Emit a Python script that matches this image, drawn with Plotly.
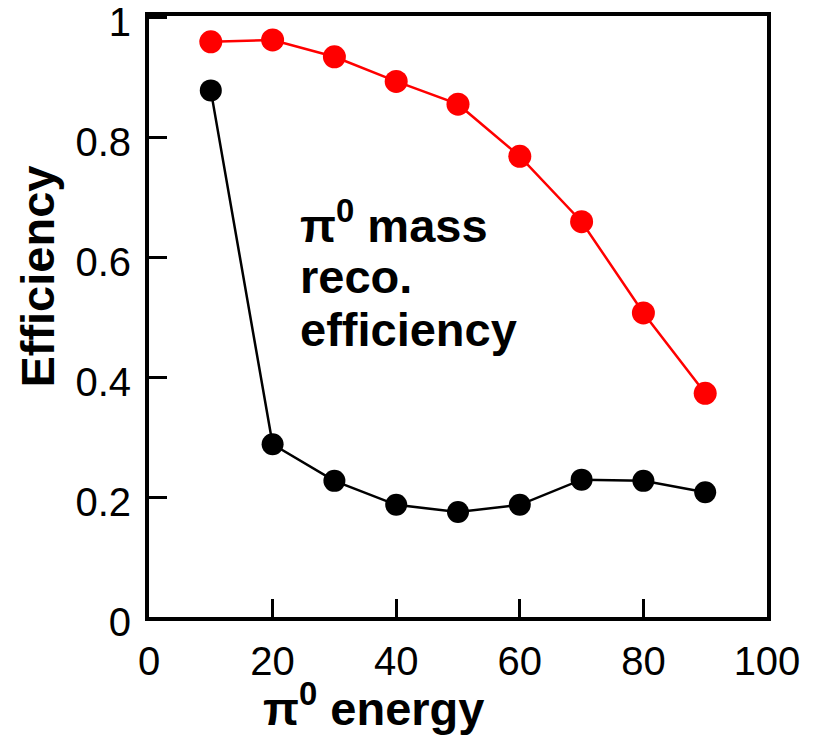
import plotly.graph_objects as go

# pi0 energy points
energy = [10, 20, 30, 40, 50, 60, 70, 80, 90]

# efficiency curves
eff_red = [0.959, 0.962, 0.934, 0.893, 0.855, 0.768, 0.659, 0.507, 0.373]
eff_black = [0.878, 0.288, 0.227, 0.187, 0.175, 0.187, 0.229, 0.227, 0.208]

x_ticks = [0, 20, 40, 60, 80, 100]
x_tick_text = ["0", "20", "40", "60", "80", "100"]
y_ticks = [0, 0.2, 0.4, 0.6, 0.8, 1.0]
y_tick_text = ["0", "0.2", "0.4", "0.6", "0.8", "1"]

FONT = "Liberation Sans, Arial, sans-serif"

fig = go.Figure()
fig.add_trace(go.Scatter(
    x=energy, y=eff_black, mode="lines+markers",
    line=dict(color="#000000", width=2.5),
    marker=dict(color="#000000", size=22),
    showlegend=False,
))
fig.add_trace(go.Scatter(
    x=energy, y=eff_red, mode="lines+markers",
    line=dict(color="#ff0000", width=2.5),
    marker=dict(color="#ff0000", size=23),
    showlegend=False,
))

axis_common = dict(
    showgrid=False, zeroline=False, automargin=False,
    showline=True, linecolor="#000000", linewidth=4, mirror=True,
    ticks="inside", ticklen=18, tickwidth=2.5, tickcolor="#000000",
    tickfont=dict(family=FONT, size=40, color="#000000"),
    ticklabeloverflow="allow",
)

fig.update_xaxes(range=[0, 100], tickvals=x_ticks, ticktext=x_tick_text,
                 ticklabelstandoff=6, **axis_common)
fig.update_yaxes(range=[0, 1.002], tickvals=y_ticks, ticktext=y_tick_text,
                 ticklabelstandoff=6, ticklabelshift=5, **axis_common)

bold = dict(family=FONT, size=47, color="#000000", weight="bold")

annotations = [
    dict(text="<b>Efficiency</b>", x=-0.18, y=0.566, textangle=-90,
         xanchor="center", yanchor="middle"),
    dict(text="<b>π<sup>0</sup> energy</b>", x=0.364, y=-0.147,
         xanchor="center", yanchor="middle"),
    dict(text="<b>π<sup>0</sup> mass</b>", x=0.241, y=0.657,
         xanchor="left", yanchor="middle"),
    dict(text="<b>reco.</b>", x=0.241, y=0.567,
         xanchor="left", yanchor="middle"),
    dict(text="<b>efficiency</b>", x=0.241, y=0.479,
         xanchor="left", yanchor="middle"),
]
for a in annotations:
    fig.add_annotation(xref="paper", yref="paper", showarrow=False,
                       font=bold, **a)

fig.update_layout(
    width=820, height=739,
    margin=dict(l=149, r=53, t=16, b=122),
    paper_bgcolor="#ffffff", plot_bgcolor="#ffffff",
)

fig.write_html("out.html")
